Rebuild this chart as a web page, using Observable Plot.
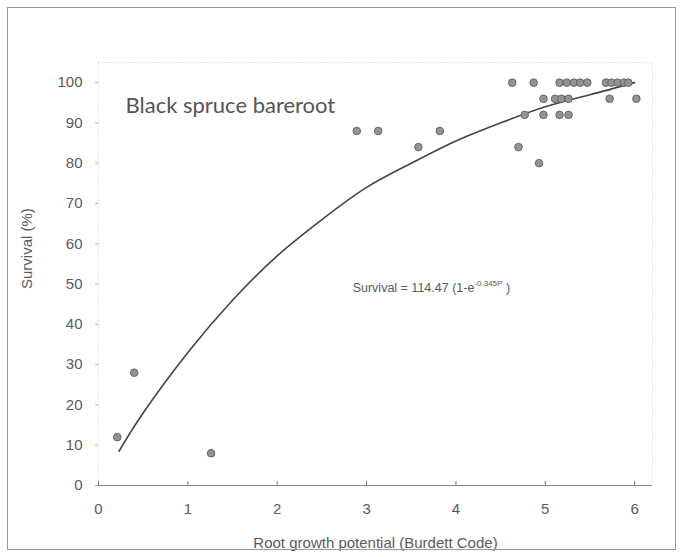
<!DOCTYPE html>
<html>
<head>
<meta charset="utf-8">
<script src="https://cdn.jsdelivr.net/npm/d3@7"></script>
<script src="https://cdn.jsdelivr.net/npm/@observablehq/plot@0.6"></script>
<style>
  html, body { margin: 0; padding: 0; background: #fff; }
  #wrap { position: relative; width: 682px; height: 557px; }
  #border { position: absolute; left: 7px; top: 7px; width: 667px; height: 541px; border: 1px solid #999; pointer-events: none; }
</style>
</head>
<body>
<div id="wrap"><div id="border"></div></div>
<script>
// Observed data points
const rgp = [0.21, 0.40, 1.26, 2.89, 3.13, 3.58, 3.82,
  4.63, 4.87, 5.16, 5.24, 5.32, 5.39, 5.47, 5.68, 5.74, 5.81, 5.88, 5.93,
  4.98, 5.11, 5.18, 5.26, 5.72, 6.02,
  4.77, 4.98, 5.16, 5.26,
  4.70, 4.93];
const survival = [12, 28, 8, 88, 88, 84, 88,
  100, 100, 100, 100, 100, 100, 100, 100, 100, 100, 100, 100,
  96, 96, 96, 96, 96, 96,
  92, 92, 92, 92,
  84, 80];
// Fitted curve
const curveX = [0.23, 0.5, 1, 1.5, 2, 2.5, 3, 3.5, 4, 4.5, 5, 5.5, 6];
const curveY = [8.5, 18, 33, 46, 57, 66, 74, 80, 85.5, 90, 94, 97, 100];
// Tick labels
const xTicks = [0, 1, 2, 3, 4, 5, 6];
const yTicks = [0, 10, 20, 30, 40, 50, 60, 70, 80, 90, 100];
// Texts
const title = "Black spruce bareroot";
const xLabel = "Root growth potential (Burdett Code)";
const yLabel = "Survival (%)";
const eqMain = "Survival = 114.47 (1-e";
const eqExp = "-0.345P";
const eqEnd = " )";
const eqPos = {x: 2.85, y: 48};

const points = rgp.map((x, i) => ({x, y: survival[i]}));
const curve = curveX.map((x, i) => ({x, y: curveY[i]}));

const font = "'Liberation Sans', Arial, sans-serif";
const chart = Plot.plot({
  width: 682,
  height: 557,
  marginLeft: 98,
  marginRight: 30,
  marginTop: 62,
  marginBottom: 72,
  style: {fontFamily: font, fontSize: "15px", color: "#555", background: "transparent"},
  x: {domain: [0, 6.2]},
  y: {domain: [0, 105]},
  marks: [
    Plot.frame({stroke: "#ccc", strokeDasharray: "1,2"}),
    Plot.axisY(yTicks, {tickSize: 3, tickPadding: 13, label: null, stroke: "#aaa", fill: "#5a5a5a"}),
    Plot.axisX(xTicks, {tickSize: 0, tickPadding: 18, label: null, fill: "#5a5a5a"}),
    Plot.ruleY([0], {stroke: "#888", strokeWidth: 1.2}),
    Plot.ruleX(xTicks, {y1: 0, y2: 1, stroke: "#777"}),
    Plot.line(curve, {x: "x", y: "y", curve: "natural", stroke: "#444", strokeWidth: 1.6}),
    Plot.dot(points, {x: "x", y: "y", r: 3.8, fill: "#939393", stroke: "#666", strokeWidth: 1}),
    Plot.text([title], {frameAnchor: "top-left", dx: 27, dy: 35, text: d => d, textAnchor: "start",
      fontSize: 22, fill: "#555", fontFamily: "Lato, 'Open Sans', sans-serif"}),
    Plot.text([xLabel], {frameAnchor: "bottom", dy: 62, text: d => d, fill: "#5a5a5a", fontSize: 15}),
    Plot.text([yLabel], {frameAnchor: "left", dx: -71, dy: 15, rotate: -90, text: d => d, fill: "#5a5a5a", fontSize: 15})
  ]
});
document.getElementById("wrap").prepend(chart);

// Equation with superscript, positioned through the plot's scales
const sx = chart.scale("x"), sy = chart.scale("y");
const eq = d3.select(chart).append("text")
  .attr("x", sx.apply(eqPos.x)).attr("y", sy.apply(eqPos.y))
  .attr("text-anchor", "start")
  .attr("fill", "#5a5a5a").attr("font-size", 12.5).attr("font-family", font);
eq.append("tspan").text(eqMain);
eq.append("tspan").attr("dy", -6).attr("font-size", 8).text(eqExp);
eq.append("tspan").attr("dy", 6).text(eqEnd);
</script>
</body>
</html>
